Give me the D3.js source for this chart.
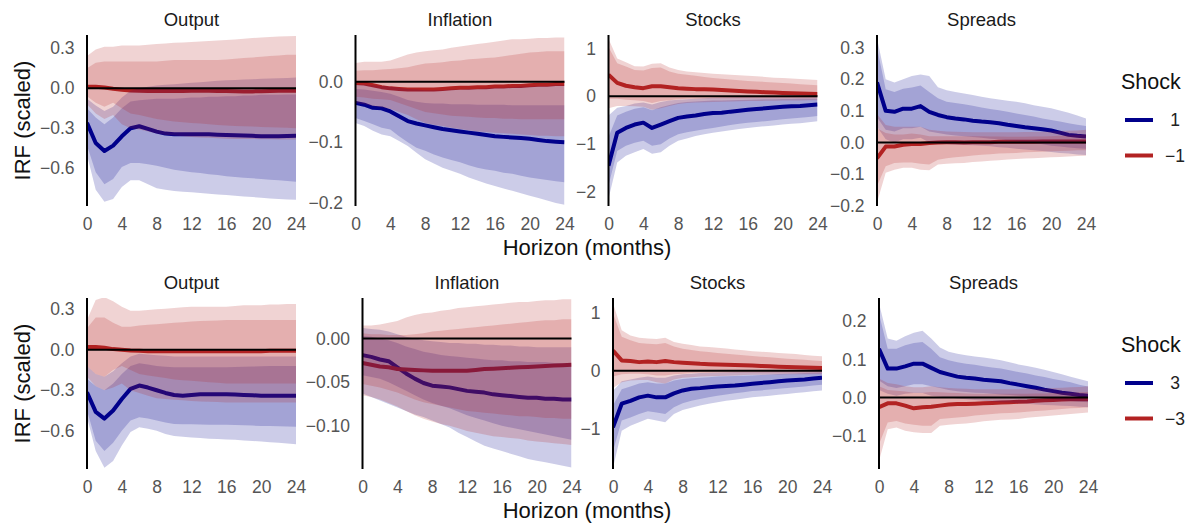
<!DOCTYPE html>
<html>
<head>
<meta charset="utf-8">
<script src="https://cdn.jsdelivr.net/npm/d3@7"></script>
<style>
  html, body { margin: 0; padding: 0; background: #ffffff; }
  svg { display: block; font-family: "Liberation Sans", Arial, sans-serif; }
</style>
</head>
<body>
<svg id="chart" width="1198" height="524"></svg>
<script>
// ---- data -------------------------------------------------------------
const horizons = [0,1,2,3,4,5,6,7,8,9,10,11,12,13,14,15,16,17,18,19,20,21,22,23,24];
const variables = ["Output", "Inflation", "Stocks", "Spreads"];
const shockLabelsTop = ["1", "\u22121"];
const shockLabelsBottom = ["3", "\u22123"];
const xTicks = [0, 4, 8, 12, 16, 20, 24];

const yTicksTop = [[-0.6, -0.3, 0, 0.3], [-0.2, -0.1, 0], [-2, -1, 0, 1], [-0.2, -0.1, 0, 0.1, 0.2, 0.3]];
const yTicksBottom = [[-0.6, -0.3, 0, 0.3], [-0.10, -0.05, 0], [-1, 0, 1], [-0.1, 0, 0.1, 0.2]];
const yDecimalsTop = [1, 1, 0, 1];
const yDecimalsBottom = [1, 2, 0, 1];
const yLimitsTop = [[-0.882, 0.398], [-0.205, 0.077], [-2.29, 1.28], [-0.201, 0.34]];
const yLimitsBottom = [[-0.884, 0.384], [-0.1496, 0.0465], [-1.70, 1.26], [-0.187, 0.261]];

// Row 1: shock of +1 / -1
const outputPos1 = {
  irf:  [-0.26,-0.41,-0.47,-0.43,-0.36,-0.30,-0.285,-0.305,-0.325,-0.34,-0.345,-0.345,-0.345,-0.345,-0.345,-0.348,-0.35,-0.352,-0.355,-0.357,-0.36,-0.36,-0.36,-0.358,-0.357],
  lo90: [-0.50,-0.76,-0.85,-0.83,-0.74,-0.69,-0.69,-0.72,-0.75,-0.76,-0.77,-0.775,-0.78,-0.785,-0.79,-0.795,-0.80,-0.805,-0.81,-0.815,-0.82,-0.825,-0.83,-0.833,-0.836],
  lo68: [-0.43,-0.63,-0.72,-0.68,-0.59,-0.56,-0.56,-0.57,-0.58,-0.595,-0.61,-0.62,-0.63,-0.635,-0.645,-0.65,-0.66,-0.665,-0.67,-0.675,-0.68,-0.685,-0.69,-0.695,-0.70],
  hi68: [-0.15,-0.22,-0.27,-0.22,-0.15,-0.10,-0.09,-0.085,-0.08,-0.08,-0.08,-0.075,-0.07,-0.07,-0.065,-0.065,-0.06,-0.06,-0.055,-0.055,-0.05,-0.05,-0.05,-0.048,-0.047],
  hi90: [-0.08,-0.13,-0.17,-0.14,-0.07,-0.02,0.0,0.01,0.02,0.025,0.03,0.035,0.04,0.045,0.05,0.055,0.06,0.062,0.065,0.067,0.07,0.072,0.075,0.077,0.08]
};
const outputNeg1 = {
  irf:  [0.01,0.01,0.005,-0.005,-0.012,-0.018,-0.02,-0.022,-0.022,-0.022,-0.022,-0.021,-0.02,-0.02,-0.02,-0.021,-0.022,-0.023,-0.024,-0.024,-0.023,-0.022,-0.02,-0.02,-0.02],
  lo90: [-0.12,-0.19,-0.23,-0.20,-0.27,-0.30,-0.31,-0.325,-0.34,-0.35,-0.355,-0.36,-0.365,-0.37,-0.372,-0.375,-0.378,-0.38,-0.38,-0.38,-0.382,-0.383,-0.384,-0.385,-0.385],
  lo68: [-0.06,-0.11,-0.14,-0.11,-0.15,-0.19,-0.20,-0.215,-0.23,-0.24,-0.25,-0.255,-0.26,-0.265,-0.27,-0.275,-0.28,-0.283,-0.285,-0.287,-0.29,-0.292,-0.295,-0.297,-0.30],
  hi68: [0.15,0.19,0.20,0.20,0.20,0.20,0.20,0.20,0.20,0.205,0.21,0.21,0.21,0.21,0.21,0.21,0.215,0.22,0.225,0.23,0.235,0.24,0.245,0.25,0.25],
  hi90: [0.24,0.29,0.31,0.31,0.32,0.32,0.32,0.325,0.33,0.335,0.34,0.342,0.345,0.35,0.353,0.357,0.36,0.365,0.37,0.375,0.38,0.383,0.386,0.388,0.39]
};
const inflationPos1 = {
  irf:  [-0.035,-0.038,-0.043,-0.044,-0.049,-0.057,-0.065,-0.069,-0.072,-0.075,-0.078,-0.080,-0.082,-0.084,-0.086,-0.088,-0.090,-0.091,-0.092,-0.093,-0.094,-0.096,-0.098,-0.099,-0.100],
  lo90: [-0.068,-0.073,-0.081,-0.087,-0.090,-0.098,-0.106,-0.117,-0.128,-0.135,-0.142,-0.147,-0.152,-0.158,-0.163,-0.168,-0.172,-0.176,-0.180,-0.184,-0.188,-0.192,-0.196,-0.200,-0.203],
  lo68: [-0.060,-0.065,-0.070,-0.076,-0.079,-0.090,-0.100,-0.109,-0.114,-0.120,-0.125,-0.129,-0.133,-0.138,-0.142,-0.145,-0.147,-0.150,-0.152,-0.155,-0.158,-0.160,-0.162,-0.164,-0.166],
  hi68: [-0.012,-0.013,-0.015,-0.017,-0.020,-0.025,-0.030,-0.033,-0.035,-0.036,-0.036,-0.037,-0.037,-0.037,-0.038,-0.038,-0.038,-0.038,-0.039,-0.039,-0.039,-0.039,-0.039,-0.039,-0.039],
  hi90: [-0.005,-0.005,-0.006,-0.007,-0.008,-0.010,-0.012,-0.013,-0.014,-0.014,-0.014,-0.013,-0.013,-0.012,-0.012,-0.011,-0.010,-0.010,-0.009,-0.008,-0.008,-0.007,-0.007,-0.006,-0.006]
};
const inflationNeg1 = {
  irf:  [-0.002,-0.003,-0.006,-0.009,-0.011,-0.012,-0.013,-0.013,-0.013,-0.013,-0.012,-0.011,-0.010,-0.010,-0.009,-0.009,-0.008,-0.008,-0.007,-0.007,-0.006,-0.005,-0.005,-0.004,-0.004],
  lo90: [-0.035,-0.037,-0.040,-0.042,-0.045,-0.050,-0.055,-0.062,-0.068,-0.071,-0.073,-0.076,-0.078,-0.080,-0.082,-0.083,-0.084,-0.085,-0.086,-0.087,-0.088,-0.089,-0.089,-0.090,-0.090],
  lo68: [-0.025,-0.026,-0.028,-0.029,-0.030,-0.035,-0.040,-0.045,-0.050,-0.052,-0.054,-0.056,-0.057,-0.058,-0.059,-0.060,-0.060,-0.061,-0.061,-0.062,-0.062,-0.062,-0.062,-0.062,-0.062],
  hi68: [0.018,0.019,0.019,0.020,0.021,0.022,0.024,0.027,0.030,0.031,0.032,0.034,0.035,0.037,0.038,0.039,0.040,0.042,0.044,0.046,0.048,0.049,0.050,0.050,0.050],
  hi90: [0.031,0.033,0.033,0.033,0.035,0.040,0.045,0.048,0.050,0.052,0.053,0.056,0.058,0.060,0.062,0.064,0.066,0.068,0.070,0.070,0.071,0.072,0.072,0.073,0.073]
};
const stocksPos1 = {
  irf:  [-1.45,-0.76,-0.66,-0.59,-0.55,-0.66,-0.59,-0.52,-0.45,-0.42,-0.40,-0.37,-0.35,-0.345,-0.32,-0.30,-0.28,-0.265,-0.25,-0.235,-0.22,-0.21,-0.20,-0.185,-0.17],
  lo90: [-2.14,-1.38,-1.24,-1.17,-1.10,-1.20,-1.17,-1.03,-0.93,-0.88,-0.83,-0.79,-0.76,-0.735,-0.71,-0.685,-0.66,-0.64,-0.625,-0.61,-0.59,-0.575,-0.56,-0.54,-0.52],
  lo68: [-1.86,-1.14,-1.03,-0.97,-0.93,-1.03,-1.00,-0.88,-0.79,-0.75,-0.72,-0.69,-0.66,-0.63,-0.60,-0.575,-0.55,-0.535,-0.52,-0.50,-0.48,-0.465,-0.45,-0.43,-0.41],
  hi68: [-0.85,-0.40,-0.32,-0.26,-0.23,-0.29,-0.23,-0.18,-0.14,-0.12,-0.11,-0.10,-0.09,-0.085,-0.08,-0.075,-0.07,-0.065,-0.06,-0.06,-0.055,-0.055,-0.05,-0.05,-0.05],
  hi90: [-0.40,-0.24,-0.20,-0.15,-0.13,-0.17,-0.12,-0.09,-0.07,-0.06,-0.05,-0.04,-0.03,-0.025,-0.02,-0.015,-0.01,-0.005,0.0,0.005,0.01,0.012,0.015,0.017,0.02]
};
const stocksNeg1 = {
  irf:  [0.45,0.28,0.22,0.19,0.17,0.21,0.21,0.19,0.17,0.16,0.15,0.145,0.14,0.13,0.12,0.11,0.10,0.093,0.085,0.078,0.07,0.065,0.06,0.055,0.05],
  lo90: [-0.25,-0.20,-0.20,-0.21,-0.22,-0.28,-0.25,-0.20,-0.16,-0.14,-0.13,-0.125,-0.12,-0.115,-0.11,-0.105,-0.10,-0.10,-0.095,-0.095,-0.09,-0.09,-0.085,-0.08,-0.08],
  lo68: [-0.05,-0.05,-0.07,-0.08,-0.10,-0.14,-0.10,-0.08,-0.06,-0.05,-0.05,-0.045,-0.04,-0.04,-0.04,-0.04,-0.04,-0.04,-0.04,-0.04,-0.04,-0.04,-0.04,-0.04,-0.04],
  hi68: [1.03,0.69,0.62,0.55,0.54,0.59,0.60,0.52,0.47,0.45,0.43,0.405,0.38,0.365,0.35,0.335,0.32,0.31,0.30,0.29,0.28,0.265,0.25,0.24,0.23],
  hi90: [1.20,0.79,0.71,0.63,0.62,0.68,0.69,0.60,0.55,0.52,0.50,0.485,0.47,0.46,0.45,0.44,0.43,0.42,0.405,0.39,0.38,0.37,0.36,0.35,0.34]
};
const spreadsPos1 = {
  irf:  [0.19,0.100,0.097,0.107,0.107,0.115,0.097,0.087,0.080,0.076,0.073,0.069,0.066,0.064,0.061,0.056,0.052,0.048,0.045,0.042,0.038,0.031,0.024,0.021,0.019],
  lo90: [0.05,0.01,0.0,0.01,0.01,0.015,0.0,-0.003,-0.005,-0.007,-0.008,-0.009,-0.01,-0.012,-0.015,-0.017,-0.02,-0.022,-0.025,-0.027,-0.03,-0.033,-0.035,-0.038,-0.04],
  lo68: [0.08,0.04,0.035,0.045,0.045,0.05,0.035,0.03,0.025,0.022,0.02,0.017,0.015,0.012,0.01,0.007,0.005,0.001,-0.002,-0.006,-0.01,-0.013,-0.016,-0.018,-0.02],
  hi68: [0.30,0.168,0.160,0.170,0.174,0.180,0.160,0.140,0.129,0.125,0.121,0.116,0.111,0.106,0.102,0.097,0.092,0.087,0.082,0.076,0.071,0.066,0.061,0.056,0.052],
  hi90: [0.33,0.20,0.19,0.20,0.21,0.215,0.21,0.175,0.165,0.16,0.155,0.15,0.145,0.14,0.136,0.132,0.129,0.124,0.118,0.113,0.108,0.101,0.094,0.085,0.076]
};
const spreadsNeg1 = {
  irf:  [-0.05,-0.013,-0.013,-0.007,-0.005,-0.005,-0.002,0.0,0.001,0.001,0.0,0.001,0.001,0.001,0.002,0.002,0.002,0.002,0.002,0.003,0.003,0.003,0.003,0.003,0.003],
  lo90: [-0.19,-0.096,-0.086,-0.08,-0.08,-0.086,-0.088,-0.07,-0.067,-0.066,-0.065,-0.062,-0.06,-0.058,-0.056,-0.054,-0.052,-0.051,-0.05,-0.048,-0.047,-0.046,-0.044,-0.043,-0.042],
  lo68: [-0.138,-0.075,-0.065,-0.063,-0.063,-0.067,-0.07,-0.055,-0.05,-0.047,-0.044,-0.041,-0.039,-0.037,-0.035,-0.034,-0.033,-0.031,-0.03,-0.029,-0.028,-0.027,-0.026,-0.025,-0.025],
  hi68: [0.045,0.03,0.025,0.025,0.028,0.025,0.02,0.02,0.02,0.02,0.02,0.02,0.02,0.019,0.019,0.018,0.018,0.018,0.019,0.019,0.02,0.021,0.022,0.024,0.025],
  hi90: [0.09,0.055,0.05,0.05,0.05,0.05,0.04,0.037,0.035,0.034,0.033,0.032,0.032,0.032,0.032,0.032,0.032,0.033,0.033,0.034,0.035,0.036,0.037,0.038,0.04]
};

// Row 2: shock of +3 / -3
const outputPos3 = {
  irf:  [-0.315,-0.46,-0.51,-0.45,-0.365,-0.29,-0.265,-0.28,-0.30,-0.32,-0.335,-0.34,-0.335,-0.33,-0.33,-0.33,-0.33,-0.332,-0.335,-0.337,-0.34,-0.34,-0.34,-0.34,-0.34],
  lo90: [-0.50,-0.75,-0.875,-0.825,-0.71,-0.61,-0.575,-0.585,-0.60,-0.625,-0.64,-0.645,-0.65,-0.655,-0.66,-0.662,-0.665,-0.668,-0.672,-0.676,-0.68,-0.685,-0.69,-0.695,-0.70],
  lo68: [-0.45,-0.675,-0.75,-0.69,-0.60,-0.525,-0.50,-0.51,-0.525,-0.54,-0.55,-0.552,-0.553,-0.554,-0.555,-0.555,-0.555,-0.557,-0.56,-0.562,-0.565,-0.566,-0.567,-0.568,-0.57],
  hi68: [-0.215,-0.27,-0.30,-0.25,-0.18,-0.12,-0.10,-0.11,-0.12,-0.125,-0.13,-0.13,-0.13,-0.13,-0.13,-0.13,-0.13,-0.128,-0.126,-0.124,-0.122,-0.121,-0.12,-0.12,-0.12],
  hi90: [-0.12,-0.18,-0.20,-0.16,-0.10,-0.05,-0.03,-0.035,-0.04,-0.045,-0.05,-0.05,-0.05,-0.05,-0.05,-0.05,-0.05,-0.05,-0.05,-0.05,-0.05,-0.05,-0.05,-0.05,-0.05]
};
const outputNeg3 = {
  irf:  [0.02,0.02,0.015,0.005,0.0,-0.005,-0.008,-0.01,-0.01,-0.01,-0.01,-0.01,-0.01,-0.01,-0.01,-0.01,-0.01,-0.01,-0.01,-0.01,-0.01,-0.008,-0.008,-0.007,-0.007],
  lo90: [-0.20,-0.27,-0.30,-0.28,-0.25,-0.30,-0.32,-0.34,-0.36,-0.365,-0.37,-0.375,-0.38,-0.383,-0.386,-0.388,-0.39,-0.39,-0.39,-0.39,-0.39,-0.39,-0.39,-0.39,-0.39],
  lo68: [-0.12,-0.18,-0.20,-0.15,-0.12,-0.15,-0.18,-0.19,-0.20,-0.21,-0.22,-0.225,-0.23,-0.235,-0.24,-0.245,-0.25,-0.25,-0.25,-0.25,-0.25,-0.25,-0.25,-0.25,-0.25],
  hi68: [0.16,0.24,0.24,0.20,0.17,0.17,0.18,0.185,0.19,0.195,0.20,0.205,0.21,0.213,0.216,0.218,0.22,0.22,0.22,0.22,0.22,0.22,0.22,0.22,0.22],
  hi90: [0.22,0.37,0.39,0.36,0.32,0.29,0.29,0.295,0.30,0.305,0.31,0.315,0.32,0.32,0.32,0.32,0.32,0.325,0.33,0.33,0.33,0.335,0.335,0.34,0.34]
};
const inflationPos3 = {
  irf:  [-0.019,-0.021,-0.024,-0.026,-0.033,-0.040,-0.046,-0.051,-0.054,-0.055,-0.056,-0.058,-0.060,-0.061,-0.062,-0.064,-0.065,-0.066,-0.067,-0.068,-0.068,-0.069,-0.069,-0.070,-0.070],
  lo90: [-0.063,-0.067,-0.071,-0.075,-0.079,-0.083,-0.087,-0.090,-0.094,-0.098,-0.102,-0.108,-0.113,-0.118,-0.123,-0.126,-0.129,-0.132,-0.135,-0.138,-0.140,-0.142,-0.144,-0.146,-0.148],
  lo68: [-0.042,-0.044,-0.046,-0.050,-0.055,-0.060,-0.065,-0.070,-0.074,-0.077,-0.080,-0.084,-0.088,-0.091,-0.094,-0.097,-0.100,-0.102,-0.104,-0.106,-0.108,-0.110,-0.112,-0.114,-0.116],
  hi68: [0.003,0.002,0.0,-0.002,-0.005,-0.009,-0.012,-0.015,-0.017,-0.019,-0.020,-0.021,-0.022,-0.023,-0.024,-0.025,-0.025,-0.026,-0.026,-0.027,-0.027,-0.027,-0.028,-0.028,-0.028],
  hi90: [0.012,0.011,0.010,0.008,0.005,0.002,0.0,-0.002,-0.003,-0.004,-0.005,-0.005,-0.006,-0.006,-0.007,-0.007,-0.008,-0.008,-0.009,-0.009,-0.010,-0.010,-0.010,-0.010,-0.010]
};
const inflationNeg3 = {
  irf:  [-0.028,-0.030,-0.032,-0.033,-0.035,-0.0355,-0.036,-0.0365,-0.037,-0.037,-0.037,-0.037,-0.037,-0.036,-0.035,-0.0345,-0.034,-0.0335,-0.033,-0.0325,-0.032,-0.0315,-0.031,-0.0305,-0.030],
  lo90: [-0.065,-0.067,-0.070,-0.074,-0.078,-0.083,-0.088,-0.092,-0.095,-0.098,-0.100,-0.103,-0.106,-0.108,-0.110,-0.112,-0.113,-0.114,-0.115,-0.117,-0.118,-0.119,-0.120,-0.121,-0.122],
  lo68: [-0.052,-0.054,-0.056,-0.059,-0.062,-0.066,-0.070,-0.073,-0.075,-0.077,-0.079,-0.081,-0.083,-0.084,-0.085,-0.086,-0.087,-0.088,-0.089,-0.089,-0.090,-0.091,-0.091,-0.092,-0.092],
  hi68: [0.006,0.005,0.005,0.004,0.004,0.004,0.005,0.006,0.008,0.009,0.010,0.011,0.012,0.013,0.014,0.015,0.016,0.017,0.018,0.019,0.020,0.021,0.021,0.022,0.022],
  hi90: [0.015,0.015,0.016,0.018,0.020,0.024,0.027,0.029,0.030,0.032,0.033,0.035,0.036,0.037,0.038,0.039,0.040,0.041,0.042,0.042,0.043,0.044,0.044,0.045,0.045]
};
const stocksPos3 = {
  irf:  [-0.98,-0.57,-0.52,-0.46,-0.43,-0.46,-0.46,-0.39,-0.34,-0.31,-0.30,-0.285,-0.27,-0.262,-0.255,-0.24,-0.226,-0.21,-0.197,-0.182,-0.168,-0.16,-0.15,-0.135,-0.12],
  lo90: [-1.68,-1.04,-0.95,-0.89,-0.83,-0.86,-0.89,-0.75,-0.68,-0.64,-0.60,-0.57,-0.545,-0.52,-0.50,-0.48,-0.46,-0.445,-0.43,-0.415,-0.40,-0.385,-0.37,-0.355,-0.34],
  lo68: [-1.39,-0.86,-0.81,-0.75,-0.70,-0.72,-0.75,-0.63,-0.56,-0.52,-0.49,-0.46,-0.43,-0.41,-0.39,-0.37,-0.35,-0.34,-0.325,-0.31,-0.30,-0.285,-0.27,-0.255,-0.24],
  hi68: [-0.60,-0.32,-0.27,-0.22,-0.20,-0.22,-0.22,-0.17,-0.14,-0.13,-0.12,-0.11,-0.10,-0.095,-0.09,-0.085,-0.08,-0.072,-0.065,-0.057,-0.05,-0.045,-0.04,-0.035,-0.03],
  hi90: [-0.35,-0.18,-0.15,-0.12,-0.10,-0.12,-0.12,-0.08,-0.06,-0.05,-0.04,-0.035,-0.03,-0.025,-0.02,-0.017,-0.015,-0.011,-0.008,-0.004,0.0,0.003,0.005,0.008,0.01]
};
const stocksNeg3 = {
  irf:  [0.35,0.18,0.17,0.15,0.16,0.15,0.17,0.15,0.14,0.13,0.12,0.115,0.11,0.105,0.10,0.095,0.09,0.084,0.078,0.071,0.065,0.06,0.055,0.052,0.05],
  lo90: [-0.30,-0.20,-0.17,-0.16,-0.16,-0.20,-0.22,-0.15,-0.12,-0.11,-0.10,-0.095,-0.09,-0.085,-0.08,-0.075,-0.07,-0.068,-0.066,-0.063,-0.06,-0.06,-0.06,-0.06,-0.06],
  lo68: [-0.10,-0.06,-0.05,-0.05,-0.06,-0.08,-0.08,-0.06,-0.05,-0.04,-0.035,-0.032,-0.03,-0.03,-0.03,-0.03,-0.03,-0.03,-0.03,-0.03,-0.03,-0.03,-0.03,-0.03,-0.03],
  hi68: [0.99,0.59,0.53,0.48,0.47,0.46,0.48,0.42,0.38,0.36,0.34,0.325,0.31,0.295,0.28,0.268,0.255,0.245,0.233,0.222,0.21,0.20,0.19,0.18,0.17],
  hi90: [1.17,0.70,0.61,0.57,0.56,0.55,0.57,0.50,0.47,0.445,0.42,0.41,0.40,0.385,0.37,0.355,0.34,0.33,0.32,0.31,0.30,0.29,0.275,0.26,0.25]
};
const spreadsPos3 = {
  irf:  [0.128,0.076,0.076,0.082,0.089,0.089,0.078,0.067,0.061,0.055,0.052,0.050,0.047,0.045,0.043,0.038,0.034,0.030,0.026,0.021,0.017,0.013,0.010,0.007,0.005],
  lo90: [0.020,0.010,0.005,0.010,0.012,0.012,0.005,0.002,0.0,-0.002,-0.004,-0.006,-0.008,-0.010,-0.012,-0.013,-0.015,-0.016,-0.018,-0.019,-0.020,-0.021,-0.022,-0.024,-0.025],
  lo68: [0.045,0.030,0.025,0.030,0.035,0.035,0.030,0.025,0.020,0.017,0.015,0.013,0.012,0.010,0.008,0.007,0.005,0.002,0.0,-0.003,-0.005,-0.007,-0.009,-0.011,-0.012],
  hi68: [0.220,0.128,0.128,0.137,0.143,0.146,0.128,0.106,0.098,0.093,0.089,0.086,0.082,0.079,0.076,0.072,0.067,0.063,0.058,0.054,0.049,0.045,0.040,0.034,0.029],
  hi90: [0.247,0.155,0.149,0.161,0.170,0.175,0.155,0.131,0.120,0.115,0.111,0.108,0.105,0.102,0.098,0.093,0.087,0.083,0.078,0.073,0.067,0.061,0.055,0.049,0.043]
};
const spreadsNeg3 = {
  irf:  [-0.025,-0.015,-0.015,-0.021,-0.028,-0.025,-0.024,-0.021,-0.018,-0.017,-0.017,-0.016,-0.015,-0.014,-0.013,-0.012,-0.011,-0.010,-0.008,-0.007,-0.006,-0.005,-0.004,-0.004,-0.004],
  lo90: [-0.166,-0.083,-0.078,-0.087,-0.091,-0.093,-0.093,-0.074,-0.071,-0.069,-0.068,-0.065,-0.062,-0.060,-0.058,-0.057,-0.056,-0.053,-0.051,-0.049,-0.047,-0.045,-0.043,-0.041,-0.039],
  lo68: [-0.122,-0.065,-0.061,-0.068,-0.071,-0.074,-0.074,-0.056,-0.054,-0.052,-0.050,-0.047,-0.045,-0.043,-0.041,-0.040,-0.039,-0.037,-0.035,-0.034,-0.032,-0.030,-0.028,-0.027,-0.025],
  hi68: [0.030,0.020,0.018,0.016,0.013,0.013,0.015,0.014,0.013,0.012,0.011,0.010,0.010,0.010,0.010,0.010,0.010,0.010,0.011,0.011,0.012,0.013,0.013,0.014,0.015],
  hi90: [0.050,0.038,0.035,0.030,0.027,0.027,0.030,0.027,0.025,0.024,0.023,0.022,0.022,0.022,0.022,0.022,0.022,0.023,0.023,0.024,0.025,0.026,0.027,0.028,0.030]
};

// ---- layout -----------------------------------------------------------
const colorPos = "#00008B";
const colorNeg = "#B22222";
const panelWidth = 209;
const panelHeight = 171;

const rows = [
  {
    top: 35,
    lefts: [87, 355.5, 608.5, 877],
    ticks: yTicksTop, decimals: yDecimalsTop, limits: yLimitsTop,
    labels: shockLabelsTop,
    series: [[outputPos1, outputNeg1], [inflationPos1, inflationNeg1], [stocksPos1, stocksNeg1], [spreadsPos1, spreadsNeg1]]
  },
  {
    top: 298,
    lefts: [87, 362.5, 613, 879],
    ticks: yTicksBottom, decimals: yDecimalsBottom, limits: yLimitsBottom,
    labels: shockLabelsBottom,
    series: [[outputPos3, outputNeg3], [inflationPos3, inflationNeg3], [stocksPos3, stocksNeg3], [spreadsPos3, spreadsNeg3]]
  }
];

const svg = d3.select("#chart");
const defs = svg.append("defs");

rows.forEach((row, ri) => {
  variables.forEach((name, vi) => {
    const left = row.lefts[vi];
    const g = svg.append("g").attr("transform", `translate(${left},${row.top})`);

    const x = d3.scaleLinear().domain([horizons[0], horizons[horizons.length - 1]]).range([0, panelWidth]);
    const y = d3.scaleLinear().domain(row.limits[vi]).range([panelHeight, 0]);

    const clipId = `clip-${ri}-${vi}`;
    defs.append("clipPath").attr("id", clipId)
      .append("rect").attr("x", 0).attr("y", 0).attr("width", panelWidth).attr("height", panelHeight);

    const plot = g.append("g").attr("clip-path", `url(#${clipId})`);
    const [pos, neg] = row.series[vi];

    const line = d3.line().x((d, i) => x(horizons[i])).y(d => y(d));
    const band = (lo, hi) => d3.area()
      .x((d, i) => x(horizons[i]))
      .y0((d, i) => y(lo[i]))
      .y1((d, i) => y(hi[i]))(horizons);

    // response lines sit underneath the translucent bands
    [[pos, colorPos], [neg, colorNeg]].forEach(([s, c]) => {
      plot.append("path")
        .attr("d", line(s.irf))
        .attr("fill", "none")
        .attr("stroke", c)
        .attr("stroke-width", 4)
        .attr("stroke-linejoin", "round");
    });

    // 90% and 68% bands
    [[pos, colorPos], [neg, colorNeg]].forEach(([s, c]) => {
      plot.append("path").attr("d", band(s.lo90, s.hi90)).attr("fill", c).attr("fill-opacity", 0.2);
      plot.append("path").attr("d", band(s.lo68, s.hi68)).attr("fill", c).attr("fill-opacity", 0.2);
    });

    // zero reference line
    g.append("line")
      .attr("x1", 0).attr("x2", panelWidth)
      .attr("y1", y(0)).attr("y2", y(0))
      .attr("stroke", "#000").attr("stroke-width", 2);

    // left spine
    g.append("line")
      .attr("x1", 0).attr("x2", 0)
      .attr("y1", 0).attr("y2", panelHeight)
      .attr("stroke", "#000").attr("stroke-width", 2);

    // y tick labels
    const fmt = d3.format(`.${row.decimals[vi]}f`);
    const yAxis = d3.axisLeft(y).tickValues(row.ticks[vi]).tickFormat(fmt).tickSize(0).tickPadding(12.5);
    const ya = g.append("g").call(yAxis);
    ya.select(".domain").remove();
    ya.selectAll("text")
      .attr("font-size", 17.5)
      .attr("fill", "#555555")
      .attr("font-family", "'Liberation Sans', Arial, sans-serif");

    // x tick labels
    const xAxis = d3.axisBottom(x).tickValues(xTicks).tickFormat(d3.format("d")).tickSize(0).tickPadding(0);
    const xa = g.append("g").attr("transform", `translate(0,${panelHeight})`).call(xAxis);
    xa.select(".domain").remove();
    xa.selectAll("text")
      .attr("dy", null)
      .attr("y", 23.5)
      .attr("font-size", 17.5)
      .attr("fill", "#555555")
      .attr("font-family", "'Liberation Sans', Arial, sans-serif");

    // panel title
    g.append("text")
      .attr("x", panelWidth / 2)
      .attr("y", -9.5)
      .attr("text-anchor", "middle")
      .attr("font-size", 18.5)
      .attr("fill", "#1a1a1a")
      .text(name);
  });

  // y axis title
  svg.append("text")
    .attr("transform", `translate(29.5,${row.top + panelHeight / 2}) rotate(-90)`)
    .attr("text-anchor", "middle")
    .attr("font-size", 22)
    .attr("fill", "#111")
    .text("IRF (scaled)");

  // x axis title
  svg.append("text")
    .attr("x", 587)
    .attr("y", row.top + 219.5)
    .attr("text-anchor", "middle")
    .attr("font-size", 22)
    .attr("fill", "#111")
    .text("Horizon (months)");

  // legend
  const lg = svg.append("g").attr("transform", `translate(1121,${row.top})`);
  lg.append("text")
    .attr("x", 0).attr("y", 54)
    .attr("font-size", 21.5)
    .attr("fill", "#111")
    .text("Shock");
  [colorPos, colorNeg].forEach((c, k) => {
    const ky = 85 + k * 35.5;
    lg.append("line")
      .attr("x1", 4).attr("x2", 32)
      .attr("y1", ky).attr("y2", ky)
      .attr("stroke", c).attr("stroke-width", 4);
    lg.append("text")
      .attr("x", 54).attr("y", ky)
      .attr("dy", "0.36em")
      .attr("text-anchor", "middle")
      .attr("font-size", 17.5)
      .attr("fill", "#222")
      .text(row.labels[k]);
  });
});
</script>
</body>
</html>
